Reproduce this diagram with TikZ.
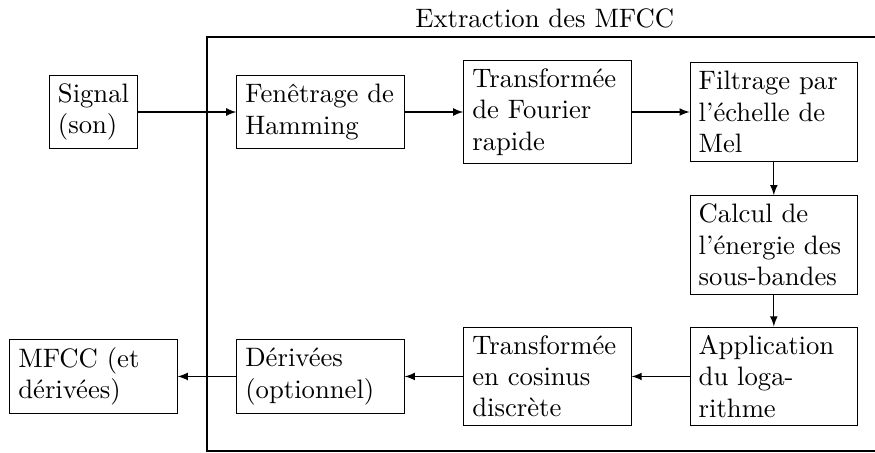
\documentclass[tikz,border=0pt]{standalone}
\usepackage{tikz}
\usetikzlibrary{positioning,arrows}

\begin{document}
\begin{tikzpicture}[
    font=\fontsize{10.5}{12.3}\selectfont,
    box/.style={draw, align=left},
    wide/.style={box, text width=2.08cm},
    >=latex]
    \useasboundingbox (0,0) rectangle (12.11,-6.256);
    \draw[thick] (13,-0.512) -| (2.865,-6.235) -- (13,-6.235);
    \node (title) at (7.54,-0.25) {Extraction des MFCC};

    \node[box] (signal) at (1.294,-1.55) {Signal\\(son)};
    \node[wide] (hamming) at (4.436,-1.55) {Fenêtrage de Hamming};
    \node[wide] (fft) at (7.577,-1.55) {Transformée de Fourier rapide};
    \node[wide] (mel) at (10.71,-1.55) {Filtrage par l'échelle de Mel};
    \node[wide] (energie) at (10.71,-3.39) {Calcul de l'énergie des sous-bandes};
    \node[wide] (log) at (10.71,-5.21) {Application du logarithme};
    \node[wide] (dct) at (7.577,-5.21) {Transformée en cosinus discrète};
    \node[wide] (derivees) at (4.436,-5.21) {Dérivées\\(optionnel)};
    \node[wide] (mfcc) at (1.294,-5.21) {MFCC (et dérivées)};

    \draw[->] (signal) -- (hamming);
    \draw[->] (hamming) -- (fft);
    \draw[->] (fft) -- (mel);
    \draw[->] (mel) -- (energie);
    \draw[->] (energie) -- (log);
    \draw[->] (log) -- (dct);
    \draw[->] (dct) -- (derivees);
    \draw[->] (derivees) -- (mfcc);
\end{tikzpicture}
\end{document}
